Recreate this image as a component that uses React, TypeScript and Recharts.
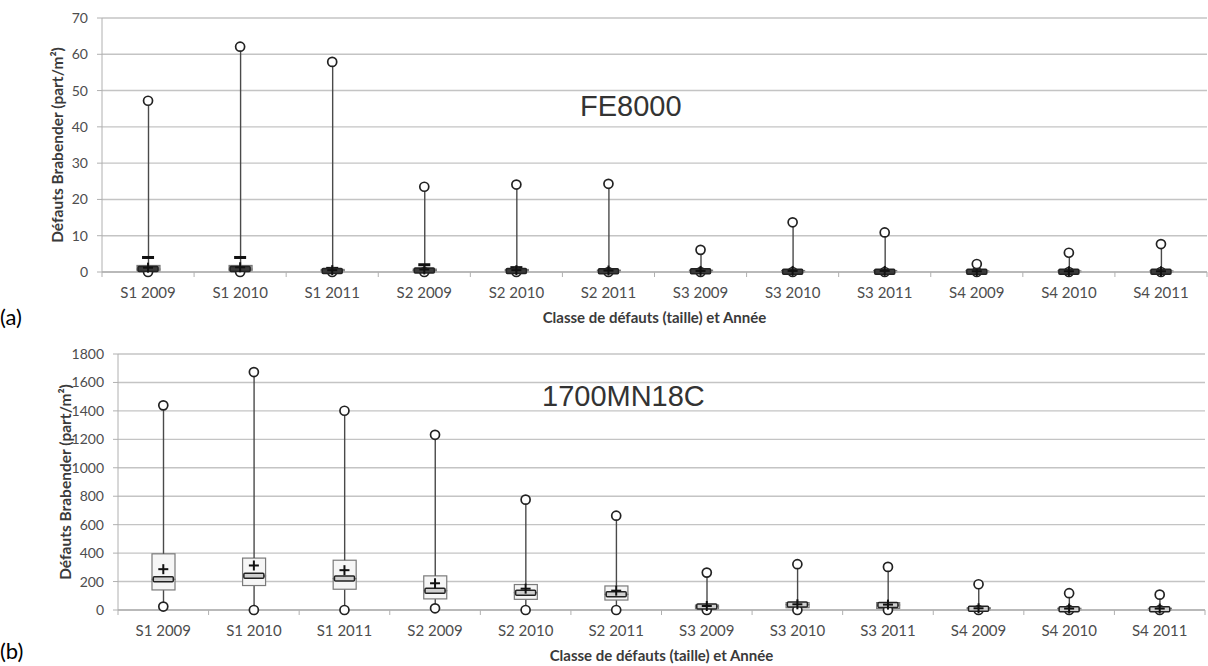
import React from "react";
import { ComposedChart, Bar, Line, XAxis, YAxis, CartesianGrid } from "recharts";

const categories = [
  "S1 2009", "S1 2010", "S1 2011",
  "S2 2009", "S2 2010", "S2 2011",
  "S3 2009", "S3 2010", "S3 2011",
  "S4 2009", "S4 2010", "S4 2011",
];

// (a) FE8000
const feTicks = [0, 10, 20, 30, 40, 50, 60, 70];
const feMin = [0, 0, 0, 0, 0, 0, 0, 0, 0, 0, 0, 0];
const feQ1 = [0.2, 0.2, 0.1, 0.1, 0.1, 0.05, 0.05, 0, 0, 0, 0, 0];
const feMedian = [0.8, 0.8, 0.3, 0.4, 0.3, 0.2, 0.2, 0.1, 0.1, 0.1, 0.1, 0.1];
const feQ3 = [1.8, 1.8, 0.7, 0.8, 0.7, 0.5, 0.5, 0.4, 0.4, 0.3, 0.3, 0.3];
const feMean = [1.2, 1.3, 0.5, 0.7, 0.5, 0.4, 0.3, 0.3, 0.3, 0.2, 0.2, 0.2];
const feCap = [4, 4, 1, 2, 1.2, 0.6, 0.5, 0.4, 0.4, 0.4, 0.4, 0.4];
const feMax = [47.2, 62.1, 57.9, 23.5, 24.1, 24.3, 6.1, 13.7, 10.9, 2.2, 5.3, 7.7];

// (b) 1700MN18C
const mnTicks = [0, 200, 400, 600, 800, 1000, 1200, 1400, 1600, 1800];
const mnMin = [24, 0, 0, 12, 0, 0, 0, 0, 0, 0, 0, 0];
const mnQ1 = [141, 172, 146, 78, 75, 70, 5, 16, 10, 0, 0, 0];
const mnMedian = [216, 240, 221, 136, 122, 110, 24, 38, 35, 8, 5, 5];
const mnQ3 = [395, 365, 350, 240, 179, 169, 35, 52, 52, 16, 12, 12];
const mnMean = [287, 313, 280, 188, 150, 136, 28, 40, 38, 12, 10, 10];
const mnCap: (number | null)[] = [null, null, null, null, null, null, null, null, null, null, null, null];
const mnMax = [1439, 1673, 1401, 1232, 776, 663, 263, 322, 303, 181, 118, 108];

const buildRows = (
  mins: number[], q1s: number[], meds: number[], q3s: number[],
  maxs: number[], means: number[], caps: (number | null)[]
) =>
  categories.map((cat, i) => ({
    cat,
    base: mins[i],
    lowW: q1s[i] - mins[i],
    boxLo: meds[i] - q1s[i],
    boxHi: q3s[i] - meds[i],
    highW: maxs[i] - q3s[i],
    min: mins[i],
    max: maxs[i],
    median: meds[i],
    mean: means[i],
    cap: caps[i],
  }));

const feRows = buildRows(feMin, feQ1, feMedian, feQ3, feMax, feMean, feCap);
const mnRows = buildRows(mnMin, mnQ1, mnMedian, mnQ3, mnMax, mnMean, mnCap);

const GRID = "#c4c4c4";
const AXIS = "#b0b0b0";
const TEXT = "#4d4d4d";
const FONT = "Lato, 'Open Sans', sans-serif";

const Whisker = (p: any) => {
  const { x, y, width, height } = p;
  if (!height || height <= 0) return <g />;
  const cx = x + width / 2;
  return <line x1={cx} x2={cx} y1={y} y2={y + height} stroke="#4a4a4a" strokeWidth={1.4} />;
};

const boxShape = (fill: string) => (p: any) => {
  const { x, y, width, height } = p;
  if (!height || height <= 0) return <g />;
  return <rect x={x} y={y} width={width} height={height} fill={fill} stroke="#7a7a7a" strokeWidth={1.2} />;
};

const circleDot = (p: any) => {
  if (p.cx == null || p.cy == null || p.value == null) return <g key={p.key} />;
  return <circle key={p.key} cx={p.cx} cy={p.cy} r={4.5} fill="#fff" stroke="#222" strokeWidth={1.7} />;
};

const medianShape = (fill: string) => (p: any) => {
  if (p.cx == null || p.cy == null) return <g key={p.key} />;
  return (
    <rect key={p.key} x={p.cx - 10} y={p.cy - 2.5} width={20} height={5} rx={1}
      fill={fill} stroke="#222" strokeWidth={1.5} />
  );
};

const meanDot = (p: any) => {
  if (p.cx == null || p.cy == null) return <g key={p.key} />;
  return (
    <g key={p.key} stroke="#111" strokeWidth={2}>
      <line x1={p.cx - 5} x2={p.cx + 5} y1={p.cy} y2={p.cy} />
      <line x1={p.cx} x2={p.cx} y1={p.cy - 5} y2={p.cy + 5} />
    </g>
  );
};

const capDot = (p: any) => {
  if (p.cx == null || p.cy == null || p.value == null) return <g key={p.key} />;
  return <rect key={p.key} x={p.cx - 6} y={p.cy - 1.5} width={12} height={3} fill="#111" />;
};

const XTick = (p: any) => {
  const { x, y, payload, index, step } = p;
  return (
    <g>
      <line x1={x - step / 2} x2={x - step / 2} y1={y} y2={y + 5} stroke={AXIS} />
      {index === categories.length - 1 && (
        <line x1={x + step / 2} x2={x + step / 2} y1={y} y2={y + 5} stroke={AXIS} />
      )}
      <text x={x} y={y + 26} textAnchor="middle" fill={TEXT} fontSize={15} fontFamily={FONT}>
        {payload.value}
      </text>
    </g>
  );
};

type ChartProps = {
  rows: any[];
  ticks: number[];
  width: number;
  height: number;
  top: number;
  right: number;
  axisWidth: number;
  xAxisHeight: number;
  titleOffset: number;
  boxFill: string;
  medianFill: string;
};

const BoxChart = ({ rows, ticks, width, height, top, right, axisWidth, xAxisHeight, titleOffset, boxFill, medianFill }: ChartProps) => {
  const step = (width - axisWidth - right) / categories.length;
  return (
    <ComposedChart width={width} height={height} data={rows}
      margin={{ top, right, bottom: 0, left: 0 }} barCategoryGap={0}>
      <CartesianGrid vertical={false} stroke={GRID} strokeWidth={1.4} />
      <XAxis dataKey="cat" interval={0} height={xAxisHeight} tickLine={false} tickSize={0} tickMargin={0}
        axisLine={{ stroke: AXIS, strokeWidth: 1.4 }} tick={<XTick step={step} />}
        label={{
          value: "Classe de défauts (taille) et Année", position: "insideBottom", offset: titleOffset,
          style: { fontFamily: FONT, fontSize: 15, fontWeight: 700, fill: "#3a3a3a" },
        }} />
      <YAxis width={axisWidth} domain={[ticks[0], ticks[ticks.length - 1]]} ticks={ticks} interval={0}
        axisLine={{ stroke: AXIS }} tickLine={{ stroke: AXIS }} tickSize={5} tickMargin={9}
        tick={{ fill: TEXT, fontSize: 14, fontFamily: FONT }}
        label={{
          value: "Défauts Brabender (part/m²)", angle: -90, position: "center", dx: 6,
          style: { fontFamily: FONT, fontSize: 15.5, fontWeight: 700, fill: "#3a3a3a", textAnchor: "middle" },
        }} />
      <Bar dataKey="base" stackId="b" fill="none" barSize={23} isAnimationActive={false} shape={() => <g />} />
      <Bar dataKey="lowW" stackId="b" barSize={23} isAnimationActive={false} shape={Whisker} />
      <Bar dataKey="boxLo" stackId="b" barSize={23} isAnimationActive={false} shape={boxShape(boxFill)} />
      <Bar dataKey="boxHi" stackId="b" barSize={23} isAnimationActive={false} shape={boxShape(boxFill)} />
      <Bar dataKey="highW" stackId="b" barSize={23} isAnimationActive={false} shape={Whisker} />
      <Line dataKey="cap" stroke="none" dot={capDot} activeDot={false} isAnimationActive={false} />
      <Line dataKey="min" stroke="none" dot={circleDot} activeDot={false} isAnimationActive={false} />
      <Line dataKey="median" stroke="none" dot={medianShape(medianFill)} activeDot={false} isAnimationActive={false} />
      <Line dataKey="mean" stroke="none" dot={meanDot} activeDot={false} isAnimationActive={false} />
      <Line dataKey="max" stroke="none" dot={circleDot} activeDot={false} isAnimationActive={false} />
    </ComposedChart>
  );
};

export default function App() {
  return (
    <div style={{ position: "absolute", left: 0, top: 0, width: 1208, height: 666, background: "#fff", fontFamily: FONT, overflow: "hidden" }}>
      <div style={{ position: "absolute", left: 0, top: 0 }}>
        <BoxChart rows={feRows} ticks={feTicks} width={1208} height={330} top={18} right={1}
          axisWidth={102} xAxisHeight={58} titleOffset={7} boxFill="#a8a8a8" medianFill="#3a3a3a" />
      </div>
      <div style={{ position: "absolute", left: 0, top: 320 }}>
        <BoxChart rows={mnRows} ticks={mnTicks} width={1208} height={346} top={34} right={3}
          axisWidth={118} xAxisHeight={56} titleOffset={5} boxFill="#f6f6f6" medianFill="#d0d0d0" />
      </div>
      <div style={{ position: "absolute", left: 580, top: 92, fontFamily: "'Liberation Sans', Arial, sans-serif", fontSize: 29, color: "#333", lineHeight: 1 }}>
        FE8000
      </div>
      <div style={{ position: "absolute", left: 542, top: 382, fontFamily: "'Liberation Sans', Arial, sans-serif", fontSize: 29, color: "#333", lineHeight: 1 }}>
        1700MN18C
      </div>
      <div style={{ position: "absolute", left: 0, top: 306, fontSize: 22, lineHeight: 1, color: "#000" }}>(a)</div>
      <div style={{ position: "absolute", left: 0, top: 640, fontSize: 22, lineHeight: 1, color: "#000" }}>(b)</div>
    </div>
  );
}
